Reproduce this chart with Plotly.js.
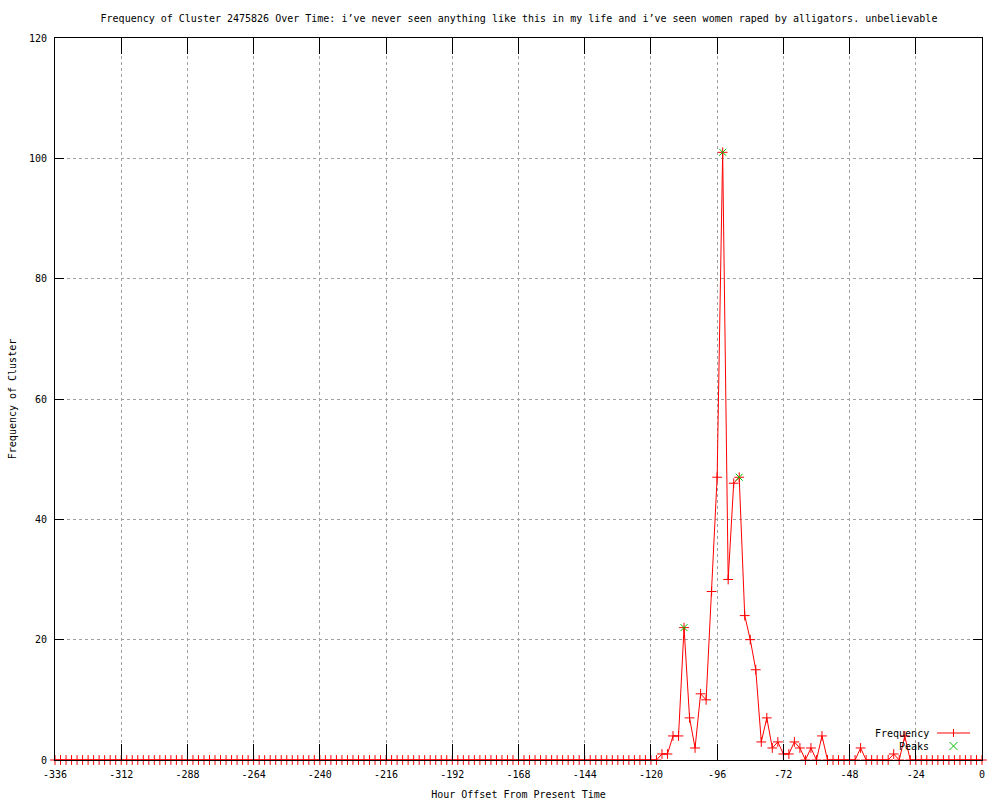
<!DOCTYPE html>
<html>
<head>
<meta charset="utf-8">
<script src="https://cdn.plot.ly/plotly-3.0.1.min.js"></script>
<style>html,body{margin:0;padding:0;background:#fff;}#chart{width:1000px;height:800px;}</style>
</head>
<body>
<div id="chart"></div>
<script>
const chartTitle = "Frequency of Cluster 2475826 Over Time: i’ve never seen anything like this in my life and i’ve seen women raped by alligators. unbelievable";
const xTitle = "Hour Offset From Present Time";
const yTitle = "Frequency of Cluster";

const hours = [-336,-334,-332,-330,-328,-326,-324,-322,-320,-318,-316,-314,-312,-310,-308,-306,-304,-302,-300,-298,-296,-294,-292,-290,-288,-286,-284,-282,-280,-278,-276,-274,-272,-270,-268,-266,-264,-262,-260,-258,-256,-254,-252,-250,-248,-246,-244,-242,-240,-238,-236,-234,-232,-230,-228,-226,-224,-222,-220,-218,-216,-214,-212,-210,-208,-206,-204,-202,-200,-198,-196,-194,-192,-190,-188,-186,-184,-182,-180,-178,-176,-174,-172,-170,-168,-166,-164,-162,-160,-158,-156,-154,-152,-150,-148,-146,-144,-142,-140,-138,-136,-134,-132,-130,-128,-126,-124,-122,-120,-118,-116,-114,-112,-110,-108,-106,-104,-102,-100,-98,-96,-94,-92,-90,-88,-86,-84,-82,-80,-78,-76,-74,-72,-70,-68,-66,-64,-62,-60,-58,-56,-54,-52,-50,-48,-46,-44,-42,-40,-38,-36,-34,-32,-30,-28,-26,-24,-22,-20,-18,-16,-14,-12,-10,-8,-6,-4,-2,0];

const frequency = [
  0,0,0,0,0,0,0,0,0,0,
  0,0,0,0,0,0,0,0,0,0,
  0,0,0,0,0,0,0,0,0,0,
  0,0,0,0,0,0,0,0,0,0,
  0,0,0,0,0,0,0,0,0,0,
  0,0,0,0,0,0,0,0,0,0,
  0,0,0,0,0,0,0,0,0,0,
  0,0,0,0,0,0,0,0,0,0,
  0,0,0,0,0,0,0,0,0,0,
  0,0,0,0,0,0,0,0,0,0,
  0,0,0,0,0,0,0,0,0,0,
  1,1,4,4,22,7,2,11,10,28,
  47,101,30,46,47,24,20,15,3,7,
  2,3,1,1,3,2,0,2,0,4,
  0,0,0,0,0,0,2,0,0,0,
  0,0,1,0,4,0,
  0,0,0,0,0,0,0,0,0,0,0,0,0
];

const peakHours = [-108, -94, -88];
const peakValues = [22, 101, 47];

const xTickVals = [-336,-312,-288,-264,-240,-216,-192,-168,-144,-120,-96,-72,-48,-24,0];
const xTickText = ["-336","-312","-288","-264","-240","-216","-192","-168","-144","-120","-96","-72","-48","-24","0"];
const yTickVals = [0,20,40,60,80,100,120];
const yTickText = ["0","20","40","60","80","100","120"];

const legendNames = ["Frequency", "Peaks"];

const FONT = "DejaVu Sans Mono, Liberation Mono, monospace";

const traces = [
  {
    x: hours, y: frequency, type: "scatter", mode: "lines+markers", name: legendNames[0],
    line: {color: "#ff0000", width: 1},
    marker: {symbol: "cross-thin-open", size: 7, color: "#ff0000", line: {color: "#ff0000", width: 1}},
    showlegend: false, cliponaxis: false
  },
  {
    x: peakHours, y: peakValues, type: "scatter", mode: "markers", name: legendNames[1],
    marker: {symbol: "x-thin-open", size: 7, color: "#00c000", line: {color: "#00c000", width: 1}},
    showlegend: false, cliponaxis: false
  }
];

const L = 55, R = 982, T = 38, B = 760;
const px = v => (v - L) / (R - L);
const py = v => (B - v) / (B - T);

const layout = {
  width: 1000, height: 800,
  paper_bgcolor: "#ffffff", plot_bgcolor: "#ffffff",
  margin: {l: L, r: 1000 - R, t: T, b: 800 - B, pad: 0},
  font: {family: FONT, size: 10, color: "#000000"},
  title: {text: chartTitle, font: {family: FONT, size: 10, color: "#000"}, x: 0.519, xanchor: "center", y: 1 - 18/800, yanchor: "middle", xref: "container", yref: "container"},
  showlegend: false,
  xaxis: {
    range: [-336, 0], tickmode: "array", tickvals: xTickVals, ticktext: xTickText,
    ticks: "inside", ticklen: 16, tickcolor: "#000", tickwidth: 1,
    showline: true, linecolor: "#000", linewidth: 1, mirror: "ticks",
    showgrid: true, gridcolor: "#a0a0a0", griddash: "dot", gridwidth: 1,
    zeroline: false, automargin: false, ticklabelstandoff: 5,
    tickfont: {family: FONT, size: 10, color: "#000"},
    title: {text: xTitle, font: {family: FONT, size: 10, color: "#000"}, standoff: 12}
  },
  yaxis: {
    range: [0, 120], tickmode: "array", tickvals: yTickVals, ticktext: yTickText,
    ticks: "inside", ticklen: 9, tickcolor: "#000", tickwidth: 1,
    showline: true, linecolor: "#000", linewidth: 1, mirror: "ticks",
    showgrid: true, gridcolor: "#a0a0a0", griddash: "dot", gridwidth: 1,
    zeroline: false, automargin: false, ticklabelstandoff: 5,
    tickfont: {family: FONT, size: 10, color: "#000"},
    title: {text: yTitle, font: {family: FONT, size: 10, color: "#000"}, standoff: 10}
  },
  annotations: [
    {text: legendNames[0], xref: "paper", yref: "paper", x: px(931), y: py(733), xanchor: "right", yanchor: "middle", showarrow: false, font: {family: FONT, size: 10, color: "#000"}},
    {text: legendNames[1], xref: "paper", yref: "paper", x: px(931), y: py(746), xanchor: "right", yanchor: "middle", showarrow: false, font: {family: FONT, size: 10, color: "#000"}}
  ],
  shapes: [
    {type: "line", xref: "paper", yref: "paper", x0: px(937), x1: px(970), y0: py(733), y1: py(733), line: {color: "#ff0000", width: 1}},
    {type: "line", xref: "paper", yref: "paper", x0: px(953.5), x1: px(953.5), y0: py(729), y1: py(737), line: {color: "#ff0000", width: 1}},
    {type: "line", xref: "paper", yref: "paper", x0: px(949.5), x1: px(957.5), y0: py(742), y1: py(750), line: {color: "#00c000", width: 1}},
    {type: "line", xref: "paper", yref: "paper", x0: px(949.5), x1: px(957.5), y0: py(750), y1: py(742), line: {color: "#00c000", width: 1}}
  ]
};

Plotly.newPlot("chart", traces, layout, {displayModeBar: false, staticPlot: true});
</script>
</body>
</html>
